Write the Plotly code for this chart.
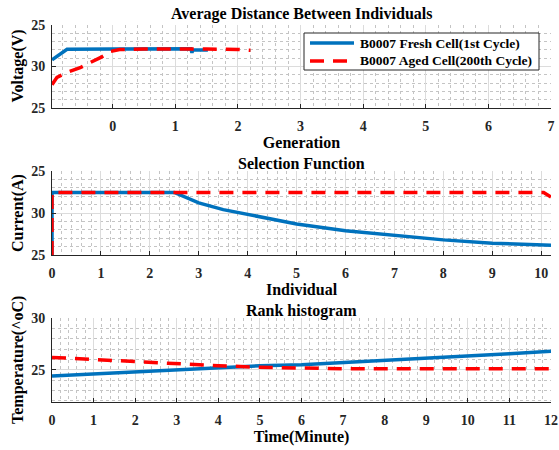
import plotly.graph_objects as go

# ---------------- data ----------------
# Panel 1: Voltage vs Generation
v_fresh_x = [-0.97, -0.85, -0.73, 0.0, 0.5, 1.0, 1.25, 1.265, 1.28, 1.52]
v_fresh_y = [30.8, 31.4, 32.07, 32.1, 32.12, 32.13, 32.13, 31.65, 32.02, 32.0]
v_aged_x = [-0.97, -0.89, -0.69, -0.52, -0.38, -0.19, -0.04, 0.11, 0.5, 1.0, 1.5, 2.0, 2.2]
v_aged_y = [27.8, 28.7, 29.4, 29.85, 30.4, 31.1, 31.8, 32.05, 32.1, 32.12, 32.1, 32.05, 31.95]

# Panel 2: Current vs Individual
c_fresh_x = [0, 0, 2.5, 3.0, 3.5, 4.0, 4.5, 5.0, 6.0, 7.0, 8.0, 9.0, 10.0, 10.2]
c_fresh_y = [25.0, 32.45, 32.45, 31.2, 30.4, 29.8, 29.25, 28.7, 27.9, 27.3, 26.8, 26.4, 26.2, 26.15]
c_aged_x = [0, 0, 10.05, 10.2]
c_aged_y = [25.0, 32.45, 32.45, 31.9]

# Panel 3: Temperature vs Time
t_x = [0, 1, 2, 3, 4, 5, 6, 7, 8, 9, 10, 11, 12]
t_fresh = [24.4, 24.6, 24.8, 25.05, 25.2, 25.4, 25.5, 25.7, 25.9, 26.1, 26.3, 26.55, 26.8]
t_aged = [26.2, 26.0, 25.75, 25.6, 25.4, 25.25, 25.15, 25.1, 25.1, 25.1, 25.05, 25.1, 25.1]

# tick labels
v_xticks = [0, 1, 2, 3, 4, 5, 6, 7]
c_xticks = [0, 1, 2, 3, 4, 5, 6, 7, 8, 9, 10]
t_xticks = [0, 1, 2, 3, 4, 5, 6, 7, 8, 9, 10, 11, 12]
v_tickvals = [25, 30, 35]
v_ticktext = ["25", "30", "25"]
c_tickvals = [25, 30, 35]
c_ticktext = ["25", "30", "25"]
t_tickvals = [25, 30]
t_ticktext = ["25", "30"]

titles = ["Average Distance Between Individuals", "Selection Function", "Rank histogram"]
xlabels = ["Generation", "Individual", "Time(Minute)"]
ylabels = ["Voltage(V)", "Current(A)", "Temperature(^oC)"]
names = ["B0007 Fresh Cell(1st Cycle)", "B0007 Aged Cell(200th Cycle)"]

# ---------------- styling ----------------
BLUE = "#0072BD"
RED = "#FF0000"
AX = "#262626"
FONT = "Liberation Serif"
LW = 3.5
DASH = "14px,9px"

fig = go.Figure()

fig.add_trace(go.Scatter(x=v_fresh_x, y=v_fresh_y, mode="lines", name=names[0],
                         line=dict(color=BLUE, width=LW), xaxis="x", yaxis="y"))
fig.add_trace(go.Scatter(x=v_aged_x, y=v_aged_y, mode="lines", name=names[1],
                         line=dict(color=RED, width=LW, dash=DASH), xaxis="x", yaxis="y"))
fig.add_trace(go.Scatter(x=c_fresh_x, y=c_fresh_y, mode="lines", name=names[0],
                         line=dict(color=BLUE, width=LW), xaxis="x2", yaxis="y2"))
fig.add_trace(go.Scatter(x=c_aged_x, y=c_aged_y, mode="lines", name=names[1],
                         line=dict(color=RED, width=LW, dash=DASH), xaxis="x2", yaxis="y2"))
fig.add_trace(go.Scatter(x=t_x, y=t_fresh, mode="lines", name=names[0],
                         line=dict(color=BLUE, width=LW), xaxis="x3", yaxis="y3"))
fig.add_trace(go.Scatter(x=t_x, y=t_aged, mode="lines", name=names[1],
                         line=dict(color=RED, width=LW, dash=DASH), xaxis="x3", yaxis="y3"))

def xaxis(rng, tickvals, title, anchor):
    return dict(range=rng, tickvals=tickvals, ticktext=[str(v) for v in tickvals],
                automargin=False, ticklabeloverflow="allow",
                showline=True, linecolor=AX, linewidth=1, mirror=False,
                ticks="inside", ticklen=4, tickcolor=AX,
                showgrid=True, gridcolor="#DCDCDC", gridwidth=1, zeroline=False,
                minor=dict(dtick=0.2, tick0=0, showgrid=True, gridcolor="#C4C4C4",
                           griddash="dot", gridwidth=1, ticks=""),
                tickfont=dict(family=FONT, size=14, color=AX, weight="bold"),
                ticklabelstandoff=5,
                title=dict(text=title, font=dict(family=FONT, size=16, color="black", weight="bold"),
                           standoff=2),
                anchor=anchor, fixedrange=True)

def yaxis(rng, tickvals, ticktext, domain, anchor):
    return dict(range=rng, tickvals=tickvals, ticktext=ticktext, domain=domain,
                automargin=False,
                showline=True, linecolor=AX, linewidth=1, mirror=False,
                ticks="inside", ticklen=4, tickcolor=AX,
                showgrid=True, gridcolor="#DCDCDC", gridwidth=1, zeroline=False,
                minor=dict(dtick=1, tick0=25, showgrid=True, gridcolor="#C4C4C4",
                           griddash="dot", gridwidth=1, ticks=""),
                tickfont=dict(family=FONT, size=14, color=AX, weight="bold"),
                ticklabelstandoff=3,
                anchor=anchor, fixedrange=True)

W, H = 559, 450
ML, MR, MT, MB = 52, 8, 25, 48
PW = W - ML - MR
PH = H - MT - MB
def dom(top_px, bot_px):
    return [(H - MB - bot_px) / PH, (H - MB - top_px) / PH]

d1 = dom(25, 108)
d2 = dom(171, 255)
d3 = dom(318, 402)

fig.update_layout(
    width=W, height=H, autosize=False,
    margin=dict(l=ML, r=MR, t=MT, b=MB, autoexpand=False),
    paper_bgcolor="white", plot_bgcolor="white",
    font=dict(family=FONT, color="black"),
    xaxis=xaxis([-0.97, 7.0], v_xticks, xlabels[0], "y"),
    yaxis=yaxis([25, 35], v_tickvals, v_ticktext, d1, "x"),
    xaxis2=xaxis([0, 10.2], c_xticks, xlabels[1], "y2"),
    yaxis2=yaxis([25, 35], c_tickvals, c_ticktext, d2, "x2"),
    xaxis3=xaxis([0, 12], t_xticks, xlabels[2], "y3"),
    yaxis3=yaxis([21.9, 30], t_tickvals, t_ticktext, d3, "x3"),
    showlegend=False,
)

# subplot titles
for title, d, shift in zip(titles, [d1, d2, d3], [0, -3, -4]):
    fig.add_annotation(text=title, x=0.5, xref="paper", y=d[1], yref="paper",
                       xanchor="center", yanchor="bottom", yshift=shift, showarrow=False,
                       font=dict(family=FONT, size=16, color="black", weight="bold"))

# y-axis titles (rotated), placed next to each panel
for lab, d in zip(ylabels, [d1, d2, d3]):
    fig.add_annotation(text=lab, x=(18 - ML) / PW, xref="paper", y=(d[0] + d[1]) / 2, yref="paper",
                       xanchor="center", yanchor="middle", textangle=-90, showarrow=False,
                       font=dict(family=FONT, size=16, color="black", weight="bold"))

# legend box (drawn in the top panel's domain coordinates)
def lx(px):
    return (px - ML) / PW
def ly(py):
    return (108 - py) / (108 - 25)

fig.add_shape(type="rect", xref="x domain", yref="y domain", x0=lx(304), x1=lx(539), y0=ly(70), y1=ly(33),
              line=dict(color=AX, width=1), fillcolor="white", layer="above")
leg_rows = [ly(43), ly(61)]
leg_styles = [dict(color=BLUE, width=LW), dict(color=RED, width=LW, dash=DASH)]
for name, yy, st in zip(names, leg_rows, leg_styles):
    fig.add_shape(type="line", xref="x domain", yref="y domain", x0=lx(310), x1=lx(354), y0=yy, y1=yy,
                  line=st, layer="above")
    fig.add_annotation(text=name, xref="x domain", yref="y domain", x=lx(358), y=yy,
                       xanchor="left", yanchor="middle", showarrow=False,
                       font=dict(family=FONT, size=13.5, color="black", weight="bold"))

fig.write_html("out.html", config={"responsive": False},
               post_script="document.body.style.margin='0';document.body.style.overflow='hidden';"
                           "document.documentElement.style.overflow='hidden';")
